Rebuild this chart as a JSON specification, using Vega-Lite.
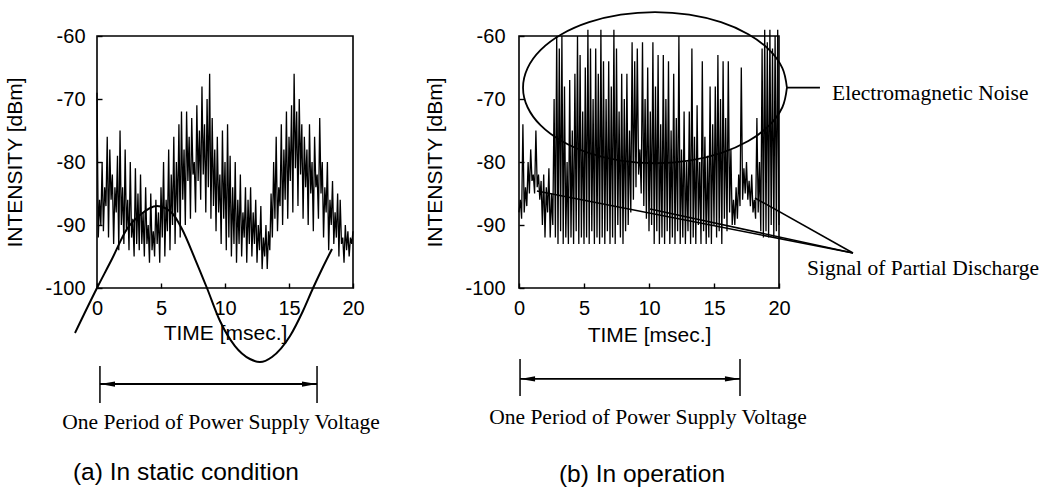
{
  "$schema": "https://vega.github.io/schema/vega-lite/v6.json",
  "background": "white",
  "padding": {"left": 3, "top": 7, "right": 5, "bottom": 5},
  "bounds": "flush",
  "spacing": 166,
  "config": {
    "view": {"stroke": "black", "strokeWidth": 1.6},
    "axis": {
      "domain": false, "grid": false, "ticks": true, "tickColor": "black", "tickWidth": 1.4, "tickSize": -5,
      "labelFont": "Liberation Sans", "labelFontSize": 20, "labelColor": "black", "labelFlush": false, "labelOverlap": false, "labelBound": false,
      "labelExpr": "datum.value < 0 ? '-' + abs(datum.value) : '' + datum.value",
      "titleFont": "Liberation Sans", "titleFontSize": 21, "titleFontWeight": "normal", "titleColor": "black"
    }
  },
  "datasets": {
    "noiseA": [
      {"t":0,"v":-69},{"t":0.1,"v":-92},{"t":0.2,"v":-86},{"t":0.3,"v":-90},{"t":0.4,"v":-80},{"t":0.5,"v":-91},{"t":0.6,"v":-84},{"t":0.7,"v":-87},{"t":0.8,"v":-76},{"t":0.9,"v":-92},
      {"t":1.0,"v":-78},{"t":1.1,"v":-86},{"t":1.2,"v":-82},{"t":1.3,"v":-93},{"t":1.4,"v":-84},{"t":1.5,"v":-88},{"t":1.6,"v":-79},{"t":1.7,"v":-94},{"t":1.8,"v":-75},{"t":1.9,"v":-90},
      {"t":2.0,"v":-84},{"t":2.1,"v":-93},{"t":2.2,"v":-78},{"t":2.3,"v":-91},{"t":2.4,"v":-86},{"t":2.5,"v":-94},{"t":2.6,"v":-80},{"t":2.7,"v":-92},{"t":2.8,"v":-89},{"t":2.9,"v":-95},
      {"t":3.0,"v":-81},{"t":3.1,"v":-93},{"t":3.2,"v":-85},{"t":3.3,"v":-94},{"t":3.4,"v":-82},{"t":3.5,"v":-93},{"t":3.6,"v":-88},{"t":3.7,"v":-95},{"t":3.8,"v":-84},{"t":3.9,"v":-93},
      {"t":4.0,"v":-90},{"t":4.1,"v":-96},{"t":4.2,"v":-85},{"t":4.3,"v":-94},{"t":4.4,"v":-91},{"t":4.5,"v":-95},{"t":4.6,"v":-86},{"t":4.7,"v":-93},{"t":4.8,"v":-88},{"t":4.9,"v":-96},
      {"t":5.0,"v":-84},{"t":5.1,"v":-92},{"t":5.2,"v":-80},{"t":5.3,"v":-95},{"t":5.4,"v":-86},{"t":5.5,"v":-91},{"t":5.6,"v":-78},{"t":5.7,"v":-94},{"t":5.8,"v":-82},{"t":5.9,"v":-90},
      {"t":6.0,"v":-76},{"t":6.1,"v":-93},{"t":6.2,"v":-80},{"t":6.3,"v":-88},{"t":6.4,"v":-74},{"t":6.5,"v":-92},{"t":6.6,"v":-72},{"t":6.7,"v":-86},{"t":6.8,"v":-78},{"t":6.9,"v":-90},
      {"t":7.0,"v":-72},{"t":7.1,"v":-83},{"t":7.2,"v":-76},{"t":7.3,"v":-89},{"t":7.4,"v":-73},{"t":7.5,"v":-82},{"t":7.6,"v":-80},{"t":7.7,"v":-88},{"t":7.8,"v":-71},{"t":7.9,"v":-83},
      {"t":8.0,"v":-75},{"t":8.1,"v":-86},{"t":8.2,"v":-68},{"t":8.3,"v":-82},{"t":8.4,"v":-74},{"t":8.5,"v":-88},{"t":8.6,"v":-70},{"t":8.7,"v":-84},{"t":8.8,"v":-66},{"t":8.9,"v":-89},
      {"t":9.0,"v":-73},{"t":9.1,"v":-87},{"t":9.2,"v":-78},{"t":9.3,"v":-91},{"t":9.4,"v":-76},{"t":9.5,"v":-88},{"t":9.6,"v":-82},{"t":9.7,"v":-93},{"t":9.8,"v":-75},{"t":9.9,"v":-89},
      {"t":10.0,"v":-80},{"t":10.1,"v":-94},{"t":10.2,"v":-74},{"t":10.3,"v":-92},{"t":10.4,"v":-79},{"t":10.5,"v":-95},{"t":10.6,"v":-84},{"t":10.7,"v":-93},{"t":10.8,"v":-80},{"t":10.9,"v":-96},
      {"t":11.0,"v":-86},{"t":11.1,"v":-93},{"t":11.2,"v":-82},{"t":11.3,"v":-95},{"t":11.4,"v":-88},{"t":11.5,"v":-92},{"t":11.6,"v":-84},{"t":11.7,"v":-96},{"t":11.8,"v":-86},{"t":11.9,"v":-93},
      {"t":12.0,"v":-84},{"t":12.1,"v":-95},{"t":12.2,"v":-88},{"t":12.3,"v":-93},{"t":12.4,"v":-86},{"t":12.5,"v":-96},{"t":12.6,"v":-90},{"t":12.7,"v":-94},{"t":12.8,"v":-87},{"t":12.9,"v":-97},
      {"t":13.0,"v":-92},{"t":13.1,"v":-95},{"t":13.2,"v":-90},{"t":13.3,"v":-97},{"t":13.4,"v":-91},{"t":13.5,"v":-94},{"t":13.6,"v":-85},{"t":13.7,"v":-92},{"t":13.8,"v":-80},{"t":13.9,"v":-89},
      {"t":14.0,"v":-76},{"t":14.1,"v":-91},{"t":14.2,"v":-84},{"t":14.3,"v":-87},{"t":14.4,"v":-74},{"t":14.5,"v":-90},{"t":14.6,"v":-78},{"t":14.7,"v":-86},{"t":14.8,"v":-72},{"t":14.9,"v":-89},
      {"t":15.0,"v":-76},{"t":15.1,"v":-83},{"t":15.2,"v":-71},{"t":15.3,"v":-88},{"t":15.4,"v":-66},{"t":15.5,"v":-81},{"t":15.6,"v":-72},{"t":15.7,"v":-87},{"t":15.8,"v":-70},{"t":15.9,"v":-82},
      {"t":16.0,"v":-74},{"t":16.1,"v":-89},{"t":16.2,"v":-76},{"t":16.3,"v":-84},{"t":16.4,"v":-78},{"t":16.5,"v":-90},{"t":16.6,"v":-74},{"t":16.7,"v":-85},{"t":16.8,"v":-80},{"t":16.9,"v":-91},
      {"t":17.0,"v":-76},{"t":17.1,"v":-84},{"t":17.2,"v":-82},{"t":17.3,"v":-89},{"t":17.4,"v":-73},{"t":17.5,"v":-85},{"t":17.6,"v":-80},{"t":17.7,"v":-92},{"t":17.8,"v":-84},{"t":17.9,"v":-88},
      {"t":18.0,"v":-80},{"t":18.1,"v":-94},{"t":18.2,"v":-86},{"t":18.3,"v":-90},{"t":18.4,"v":-83},{"t":18.5,"v":-93},{"t":18.6,"v":-88},{"t":18.7,"v":-92},{"t":18.8,"v":-85},{"t":18.9,"v":-95},
      {"t":19.0,"v":-86},{"t":19.1,"v":-93},{"t":19.2,"v":-92},{"t":19.3,"v":-96},{"t":19.4,"v":-90},{"t":19.5,"v":-94},{"t":19.6,"v":-91},{"t":19.7,"v":-95},{"t":19.8,"v":-92},{"t":19.9,"v":-93},
      {"t":20.0,"v":-91}
    ],
    "noiseB": [
      {"t":0,"v":-88},{"t":0.1,"v":-86},{"t":0.2,"v":-89},{"t":0.3,"v":-74},{"t":0.4,"v":-88},{"t":0.5,"v":-84},{"t":0.6,"v":-87},{"t":0.7,"v":-80},{"t":0.8,"v":-85},{"t":0.9,"v":-78},
      {"t":1.0,"v":-83},{"t":1.1,"v":-82},{"t":1.2,"v":-85},{"t":1.3,"v":-75},{"t":1.4,"v":-84},{"t":1.5,"v":-82},{"t":1.6,"v":-86},{"t":1.7,"v":-83},{"t":1.8,"v":-90},{"t":1.9,"v":-82},
      {"t":2.0,"v":-92},{"t":2.1,"v":-84},{"t":2.2,"v":-88},{"t":2.3,"v":-81},{"t":2.4,"v":-92},{"t":2.5,"v":-85},{"t":2.6,"v":-90},{"t":2.7,"v":-70},{"t":2.8,"v":-92},{"t":2.9,"v":-60},
      {"t":3.0,"v":-93},{"t":3.1,"v":-62},{"t":3.2,"v":-91},{"t":3.3,"v":-60},{"t":3.4,"v":-93},{"t":3.5,"v":-68},{"t":3.6,"v":-92},{"t":3.7,"v":-80},{"t":3.8,"v":-93},{"t":3.9,"v":-67},
      {"t":4.0,"v":-92},{"t":4.1,"v":-75},{"t":4.2,"v":-93},{"t":4.3,"v":-66},{"t":4.4,"v":-91},{"t":4.5,"v":-60},{"t":4.6,"v":-93},{"t":4.7,"v":-63},{"t":4.8,"v":-92},{"t":4.9,"v":-72},
      {"t":5.0,"v":-93},{"t":5.1,"v":-65},{"t":5.2,"v":-92},{"t":5.3,"v":-59},{"t":5.4,"v":-93},{"t":5.5,"v":-62},{"t":5.6,"v":-91},{"t":5.7,"v":-70},{"t":5.8,"v":-93},{"t":5.9,"v":-62},
      {"t":6.0,"v":-92},{"t":6.1,"v":-66},{"t":6.2,"v":-93},{"t":6.3,"v":-59},{"t":6.4,"v":-92},{"t":6.5,"v":-64},{"t":6.6,"v":-93},{"t":6.7,"v":-70},{"t":6.8,"v":-91},{"t":6.9,"v":-64},
      {"t":7.0,"v":-93},{"t":7.1,"v":-68},{"t":7.2,"v":-92},{"t":7.3,"v":-59},{"t":7.4,"v":-93},{"t":7.5,"v":-62},{"t":7.6,"v":-90},{"t":7.7,"v":-72},{"t":7.8,"v":-92},{"t":7.9,"v":-66},
      {"t":8.0,"v":-93},{"t":8.1,"v":-70},{"t":8.2,"v":-91},{"t":8.3,"v":-66},{"t":8.4,"v":-90},{"t":8.5,"v":-75},{"t":8.6,"v":-88},{"t":8.7,"v":-61},{"t":8.8,"v":-86},{"t":8.9,"v":-64},
      {"t":9.0,"v":-84},{"t":9.1,"v":-62},{"t":9.2,"v":-82},{"t":9.3,"v":-78},{"t":9.4,"v":-85},{"t":9.5,"v":-61},{"t":9.6,"v":-87},{"t":9.7,"v":-70},{"t":9.8,"v":-89},{"t":9.9,"v":-65},
      {"t":10.0,"v":-91},{"t":10.1,"v":-72},{"t":10.2,"v":-90},{"t":10.3,"v":-61},{"t":10.4,"v":-93},{"t":10.5,"v":-68},{"t":10.6,"v":-91},{"t":10.7,"v":-63},{"t":10.8,"v":-93},{"t":10.9,"v":-74},
      {"t":11.0,"v":-92},{"t":11.1,"v":-63},{"t":11.2,"v":-93},{"t":11.3,"v":-70},{"t":11.4,"v":-91},{"t":11.5,"v":-64},{"t":11.6,"v":-93},{"t":11.7,"v":-75},{"t":11.8,"v":-92},{"t":11.9,"v":-66},
      {"t":12.0,"v":-93},{"t":12.1,"v":-73},{"t":12.2,"v":-91},{"t":12.3,"v":-60},{"t":12.4,"v":-93},{"t":12.5,"v":-78},{"t":12.6,"v":-92},{"t":12.7,"v":-72},{"t":12.8,"v":-93},{"t":12.9,"v":-80},
      {"t":13.0,"v":-91},{"t":13.1,"v":-72},{"t":13.2,"v":-93},{"t":13.3,"v":-62},{"t":13.4,"v":-92},{"t":13.5,"v":-76},{"t":13.6,"v":-93},{"t":13.7,"v":-71},{"t":13.8,"v":-90},{"t":13.9,"v":-80},
      {"t":14.0,"v":-93},{"t":14.1,"v":-64},{"t":14.2,"v":-91},{"t":14.3,"v":-76},{"t":14.4,"v":-93},{"t":14.5,"v":-79},{"t":14.6,"v":-92},{"t":14.7,"v":-68},{"t":14.8,"v":-93},{"t":14.9,"v":-74},
      {"t":15.0,"v":-90},{"t":15.1,"v":-68},{"t":15.2,"v":-92},{"t":15.3,"v":-63},{"t":15.4,"v":-91},{"t":15.5,"v":-70},{"t":15.6,"v":-93},{"t":15.7,"v":-64},{"t":15.8,"v":-89},{"t":15.9,"v":-73},
      {"t":16.0,"v":-91},{"t":16.1,"v":-64},{"t":16.2,"v":-88},{"t":16.3,"v":-78},{"t":16.4,"v":-90},{"t":16.5,"v":-86},{"t":16.6,"v":-90},{"t":16.7,"v":-84},{"t":16.8,"v":-89},{"t":16.9,"v":-82},
      {"t":17.0,"v":-87},{"t":17.1,"v":-65},{"t":17.2,"v":-86},{"t":17.3,"v":-81},{"t":17.4,"v":-85},{"t":17.5,"v":-80},{"t":17.6,"v":-86},{"t":17.7,"v":-83},{"t":17.8,"v":-87},{"t":17.9,"v":-82},
      {"t":18.0,"v":-88},{"t":18.1,"v":-86},{"t":18.2,"v":-89},{"t":18.3,"v":-73},{"t":18.4,"v":-88},{"t":18.5,"v":-80},{"t":18.6,"v":-91},{"t":18.7,"v":-62},{"t":18.8,"v":-92},{"t":18.9,"v":-59},
      {"t":19.0,"v":-91},{"t":19.1,"v":-61},{"t":19.2,"v":-92},{"t":19.3,"v":-59},{"t":19.4,"v":-90},{"t":19.5,"v":-62},{"t":19.6,"v":-92},{"t":19.7,"v":-60},{"t":19.8,"v":-91},{"t":19.9,"v":-59},
      {"t":20.0,"v":-90}
    ],
    "sineA": [
      {"t":-1.72,"v":-107.14},{"t":0,"v":-100},{"t":1.17,"v":-95.4},{"t":2.34,"v":-90.64},{"t":3.36,"v":-88.41},{"t":4.69,"v":-86.98},{"t":5.86,"v":-88.1},{"t":6.64,"v":-90.64},{"t":7.66,"v":-95.4},{"t":8.59,"v":-100},
      {"t":9.61,"v":-105.24},{"t":10.78,"v":-109.21},{"t":11.95,"v":-111.27},{"t":12.73,"v":-111.75},{"t":13.67,"v":-110.95},{"t":15.08,"v":-107.62},{"t":16.09,"v":-103.65},{"t":16.88,"v":-100},{"t":17.58,"v":-96.98},{"t":18.36,"v":-93.81}
    ],
    "ellipseB": [
      {"i":0,"t":20.61,"v":-68.2},{"i":1,"t":20.26,"v":-65.09},{"i":2,"t":19.25,"v":-62.2},{"i":3,"t":17.64,"v":-59.72},{"i":4,"t":15.54,"v":-57.81},{"i":5,"t":13.09,"v":-56.61},{"i":6,"t":10.46,"v":-56.2},
      {"i":7,"t":7.83,"v":-56.61},{"i":8,"t":5.39,"v":-57.81},{"i":9,"t":3.28,"v":-59.72},{"i":10,"t":1.67,"v":-62.2},{"i":11,"t":0.66,"v":-65.09},{"i":12,"t":0.31,"v":-68.2},
      {"i":13,"t":0.66,"v":-71.31},{"i":14,"t":1.67,"v":-74.2},{"i":15,"t":3.28,"v":-76.68},{"i":16,"t":5.39,"v":-78.59},{"i":17,"t":7.83,"v":-79.79},{"i":18,"t":10.46,"v":-80.2},
      {"i":19,"t":13.09,"v":-79.79},{"i":20,"t":15.54,"v":-78.59},{"i":21,"t":17.64,"v":-76.68},{"i":22,"t":19.25,"v":-74.2},{"i":23,"t":20.26,"v":-71.31},{"i":24,"t":20.61,"v":-68.2}
    ],
    "pointersB": [
      {"g":1,"t":1.38,"v":-84.6},{"g":1,"t":25.69,"v":-94.44},
      {"g":2,"t":10.08,"v":-87.46},{"g":2,"t":25.69,"v":-94.44},
      {"g":3,"t":18.15,"v":-85.71},{"g":3,"t":25.69,"v":-94.44},
      {"g":4,"t":20.6,"v":-68.2},{"g":4,"t":23.15,"v":-68.2}
    ]
  },
  "hconcat": [
    {
      "width": 256,
      "height": 252,
      "encoding": {
        "x": {"field": "t", "type": "quantitative", "scale": {"domain": [0, 20], "nice": false, "zero": false},
              "axis": {"values": [0, 5, 10, 15, 20], "title": "TIME [msec.]", "titleY": 45, "titleBaseline": "middle", "labelPadding": 15}},
        "y": {"field": "v", "type": "quantitative", "scale": {"domain": [-100, -60], "nice": false, "zero": false},
              "axis": {"values": [-100, -90, -80, -70, -60], "title": "INTENSITY [dBm]", "titleX": -82, "titleY": 126, "titleBaseline": "middle", "labelPadding": 17}}
      },
      "layer": [
        {"data": {"name": "noiseA"}, "mark": {"type": "line", "color": "black", "strokeWidth": 1.3}},
        {"data": {"name": "sineA"}, "mark": {"type": "line", "color": "black", "strokeWidth": 2, "interpolate": "monotone"}},
        {"data": {"values": [{"t": 0.23, "v": -115.24}, {"t": 17.19, "v": -115.24}]}, "mark": {"type": "line", "color": "black", "strokeWidth": 1.8}},
        {"data": {"values": [{"t": 0.23, "v": -112.38, "v2": -118.25}, {"t": 17.19, "v": -112.38, "v2": -118.25}]}, "mark": {"type": "rule", "color": "black", "strokeWidth": 1.5},
         "encoding": {"y2": {"field": "v2"}}},
        {"data": {"values": [{"t": 0.82, "v": -115.24}]}, "mark": {"type": "point", "shape": "M-1,0L1,-0.35L1,0.35Z", "filled": true, "opacity": 1, "size": 225, "color": "black"}},
        {"data": {"values": [{"t": 16.6, "v": -115.24}]}, "mark": {"type": "point", "shape": "M1,0L-1,-0.35L-1,0.35Z", "filled": true, "opacity": 1, "size": 225, "color": "black"}},
        {"data": {"values": [{"t": 9.69, "v": -121.43, "label": "One Period of Power Supply Voltage"}]},
         "mark": {"type": "text", "font": "Liberation Serif", "fontSize": 21.5, "color": "black", "align": "center", "baseline": "middle"},
         "encoding": {"text": {"field": "label"}}},
        {"data": {"values": [{"t": 6.95, "v": -129.3, "label": "(a) In static condition"}]},
         "mark": {"type": "text", "font": "Liberation Sans", "fontSize": 24.5, "color": "black", "align": "center", "baseline": "middle"},
         "encoding": {"text": {"field": "label"}}}
      ]
    },
    {
      "width": 260,
      "height": 252,
      "encoding": {
        "x": {"field": "t", "type": "quantitative", "scale": {"domain": [0, 20], "nice": false, "zero": false},
              "axis": {"values": [0, 5, 10, 15, 20], "title": "TIME [msec.]", "titleY": 47, "titleBaseline": "middle", "labelPadding": 15}},
        "y": {"field": "v", "type": "quantitative", "scale": {"domain": [-100, -60], "nice": false, "zero": false},
              "axis": {"values": [-100, -90, -80, -70, -60], "title": "INTENSITY [dBm]", "titleX": -84, "titleY": 126, "titleBaseline": "middle", "labelPadding": 19}}
      },
      "layer": [
        {"data": {"name": "noiseB"}, "mark": {"type": "line", "color": "black", "strokeWidth": 1.3}},
        {"data": {"name": "ellipseB"}, "mark": {"type": "line", "color": "black", "strokeWidth": 1.8, "interpolate": "cardinal"},
         "encoding": {"order": {"field": "i", "type": "quantitative"}}},
        {"data": {"name": "pointersB"}, "mark": {"type": "line", "color": "black", "strokeWidth": 1.6},
         "encoding": {"detail": {"field": "g", "type": "nominal"}}},
        {"data": {"values": [{"t": 0.08, "v": -114.44}, {"t": 17.0, "v": -114.44}]}, "mark": {"type": "line", "color": "black", "strokeWidth": 1.8}},
        {"data": {"values": [{"t": 0.08, "v": -111.27, "v2": -117.14}, {"t": 17.0, "v": -111.27, "v2": -117.14}]}, "mark": {"type": "rule", "color": "black", "strokeWidth": 1.5},
         "encoding": {"y2": {"field": "v2"}}},
        {"data": {"values": [{"t": 0.66, "v": -114.44}]}, "mark": {"type": "point", "shape": "M-1,0L1,-0.35L1,0.35Z", "filled": true, "opacity": 1, "size": 225, "color": "black"}},
        {"data": {"values": [{"t": 16.42, "v": -114.44}]}, "mark": {"type": "point", "shape": "M1,0L-1,-0.35L-1,0.35Z", "filled": true, "opacity": 1, "size": 225, "color": "black"}},
        {"data": {"values": [{"t": 9.92, "v": -120.6, "label": "One Period of Power Supply Voltage"}, {"t": 31.08, "v": -96.98, "label": "Signal of Partial Discharge"}]},
         "mark": {"type": "text", "font": "Liberation Serif", "fontSize": 21.5, "color": "black", "align": "center", "baseline": "middle"},
         "encoding": {"text": {"field": "label"}}},
        {"data": {"values": [{"t": 24.08, "v": -69.2, "label": "Electromagnetic Noise"}]},
         "mark": {"type": "text", "font": "Liberation Serif", "fontSize": 21.5, "color": "black", "align": "left", "baseline": "middle"},
         "encoding": {"text": {"field": "label"}}},
        {"data": {"values": [{"t": 9.46, "v": -129.7, "label": "(b) In operation"}]},
         "mark": {"type": "text", "font": "Liberation Sans", "fontSize": 24.5, "color": "black", "align": "center", "baseline": "middle"},
         "encoding": {"text": {"field": "label"}}}
      ]
    }
  ]
}
